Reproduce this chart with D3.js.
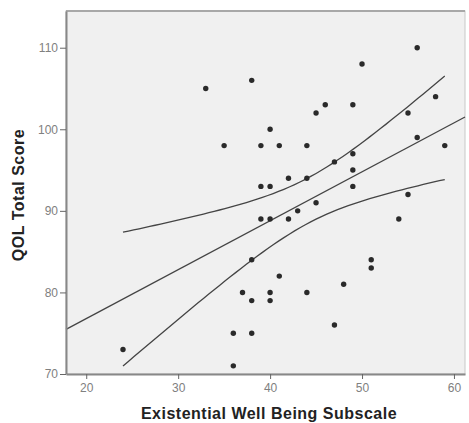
<!DOCTYPE html>
<html lang="en">
<head>
<meta charset="utf-8">
<title>QOL scatter</title>
<style>
  body { margin: 0; background: #fff; font-family: "Liberation Sans", Arial, sans-serif; }
  .tick text { fill: #808080; font-size: 12px; }
  .axis-title { font-weight: bold; font-size: 16px; letter-spacing: 0.5px; fill: #222; }
</style>
<script src="https://cdn.jsdelivr.net/npm/d3@7"></script>
</head>
<body>
<script>
// Existential Well Being Subscale (x) vs QOL Total Score (y)
var ewb = [24,33,35,36,36,37,38,38,38,38,39,39,39,40,40,40,40,40,41,41,42,42,43,44,44,44,45,45,46,47,47,48,49,49,49,49,50,51,51,54,55,55,56,56,58,59];
var qol = [73,105,98,75,71,80,106,84,79,75,98,93,89,100,93,89,80,79,98,82,94,89,90,98,94,80,102,91,103,96,76,81,103,97,95,93,108,84,83,89,102,92,110,99,104,98];
var xTicks = [20, 30, 40, 50, 60];
var yTicks = [70, 80, 90, 100, 110];

var W = 469, H = 423;
var m = {left: 66, top: 11, right: 4, bottom: 49};

var svg = d3.select("body").append("svg").attr("width", W).attr("height", H);

var x = d3.scaleLinear().domain([17.8, 61.2]).range([m.left, W - m.right]);
var y = d3.scaleLinear().domain([70, 114.5]).range([H - m.bottom, m.top]);

svg.append("rect")
  .attr("x", m.left).attr("y", m.top)
  .attr("width", x.range()[1] - m.left).attr("height", y.range()[0] - m.top)
  .attr("fill", "#f0f0f0").attr("stroke", "#c8c8c8");
// top frame
svg.append("line").attr("x1", m.left).attr("x2", x.range()[1])
  .attr("y1", m.top).attr("y2", m.top).attr("stroke", "#a8a8a8").attr("stroke-width", 2);

// linear fit + 95% CI of mean
var n = ewb.length;
var mx = d3.mean(ewb), my = d3.mean(qol);
var sxx = d3.sum(ewb, function(v){ return (v - mx) * (v - mx); });
var sxy = d3.sum(ewb, function(v, i){ return (v - mx) * (qol[i] - my); });
var b = sxy / sxx, a = my - b * mx;
var sse = d3.sum(ewb, function(v, i){ var r = qol[i] - (a + b * v); return r * r; });
var se = Math.sqrt(sse / (n - 2));
var t = 2.015;

var xmin = d3.min(ewb), xmax = d3.max(ewb);
var xs = d3.range(0, 61).map(function(k){ return xmin + (xmax - xmin) * k / 60; });
function band(sign) {
  return xs.map(function(v){
    var h = t * se * Math.sqrt(1 / n + (v - mx) * (v - mx) / sxx);
    return [v, a + b * v + sign * h];
  });
}
var line = d3.line().x(function(d){ return x(d[0]); }).y(function(d){ return y(d[1]); });

var g = svg.append("g");
g.append("path").datum(band(1)).attr("d", line).attr("fill", "none").attr("stroke", "#444").attr("stroke-width", 1.3);
g.append("path").datum(band(-1)).attr("d", line).attr("fill", "none").attr("stroke", "#444").attr("stroke-width", 1.3);
var x0 = x.domain()[0], x1 = x.domain()[1];
g.append("path").datum([[x0, a + b * x0], [x1, a + b * x1]]).attr("d", line)
  .attr("fill", "none").attr("stroke", "#444").attr("stroke-width", 1.3);

svg.append("g").selectAll("circle").data(ewb).enter().append("circle")
  .attr("cx", function(d){ return x(d); })
  .attr("cy", function(d, i){ return y(qol[i]); })
  .attr("r", 2.7).attr("fill", "#2a2a2a");

// axes
var xAxis = svg.append("g").attr("transform", "translate(0," + y.range()[0] + ")")
  .call(d3.axisBottom(x).tickValues(xTicks).tickSize(5).tickSizeOuter(0).tickPadding(4));
var yAxis = svg.append("g").attr("transform", "translate(" + m.left + ",0)")
  .call(d3.axisLeft(y).tickValues(yTicks).tickSize(6).tickSizeOuter(0).tickPadding(2));
[xAxis, yAxis].forEach(function(ax){
  ax.select(".domain").attr("stroke", "#888").attr("stroke-width", 2);
  ax.selectAll(".tick line").attr("stroke", "#666");
});

svg.append("text").attr("class", "axis-title")
  .attr("x", 269).attr("y", 419).attr("text-anchor", "middle")
  .text("Existential Well Being Subscale");
svg.append("text").attr("class", "axis-title")
  .attr("transform", "translate(24,195) rotate(-90)").attr("text-anchor", "middle")
  .text("QOL Total Score");
</script>
</body>
</html>
